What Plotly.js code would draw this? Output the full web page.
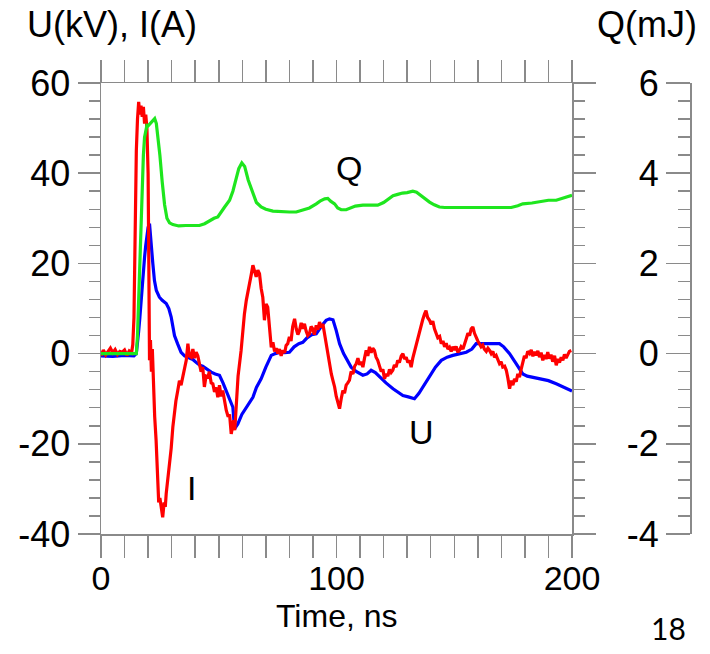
<!DOCTYPE html>
<html>
<head>
<meta charset="utf-8">
<script src="https://cdn.plot.ly/plotly-3.0.1.min.js"></script>
<style>html,body{margin:0;padding:0;background:#fff;}#chart{width:710px;height:654px;}</style>
</head>
<body>
<div id="chart"></div>
<script>
// ---- Data ----
// Time axis in ns
const qTime = [0,5,10,15,15.5,16,16.5,17,17.5,18,
  18.5,19,19.5,20,20.8,21.5,22.2,22.8,23.5,24.2,
  25,26,27,28,29.1,30.5,33,36,39,41.8,
  44,46,48,49.6,51,52.5,54.6,56,57.5,58.5,
  59.8,61,62.5,64.5,66,68,70,73,77.2,80,
  82.9,86,88.5,91.4,93,95,96.3,97.5,99.2,100.5,
  102,104.1,106,108,111.2,114,117.5,120,122,124,
  126,128,130,132.4,134,135.5,137,139.5,141.5,143.7,
  146,150,155,160.7,165,170,174.2,177,179.1,183,
  187,190,193.3,196,198,200];
// Q in mJ (right axis)
const qValues = [0,0,0,0,0.4,1.2,2.2,3.0,3.7,4.4,
  4.8,4.95,5.06,5.05,5.1,5.15,5.2,5.21,5.1,4.8,
  4.4,3.8,3.3,3.0,2.9,2.86,2.83,2.84,2.84,2.84,
  2.88,2.95,3.0,3.03,3.15,3.25,3.4,3.6,3.9,4.1,
  4.23,4.15,3.85,3.55,3.35,3.25,3.2,3.16,3.14,3.14,
  3.14,3.18,3.23,3.32,3.38,3.43,3.44,3.38,3.32,3.23,
  3.19,3.19,3.23,3.27,3.29,3.29,3.29,3.35,3.42,3.5,
  3.53,3.56,3.57,3.6,3.58,3.52,3.45,3.36,3.3,3.25,
  3.24,3.24,3.25,3.25,3.24,3.25,3.24,3.28,3.32,3.34,
  3.37,3.4,3.4,3.44,3.47,3.51];

const uTime = [0,5,10,14,15,15.5,16,16.5,17,17.5,
  18,18.5,19,19.5,20,20.6,21.3,22,22.7,23.5,
  24.8,26,27.7,28.8,29.8,31.2,32.5,34,35.5,37.6,
  39,40.5,42,43.2,45,46.8,48.5,50.3,51.8,53.2,
  54.6,56,56.7,58.1,59.8,61.7,63,64.5,66,68,
  70,72.3,74,76,78,80,82,84,85.7,87.5,
  89.5,91.4,93.5,95.6,97,98.5,99.9,101.3,103,104.5,
  106.2,108.5,111.2,113,114.7,116.5,118.3,121,124,126,
  128.2,130.5,133.1,135,136.6,138,139.5,142,144.5,147,
  149.4,152,155.1,157.5,159.3,161,162.8,166,169.2,171,
  173.5,176,179.1,181,184,187.6,190,193.3,196,199.7,
  200];
// U in kV (left axis)
const uValues = [-0.5,-0.6,-0.4,-0.5,0,2,5,8,12,15,
  18,21.4,24,26,28,28.8,23.6,20,16.2,14,
  12.5,11.8,11.1,10,8.1,4,2.2,0.3,-0.5,-1.1,
  -1.3,-2,-2.6,-2.8,-3.5,-4.1,-4.5,-4.8,-6.5,-8.2,
  -10,-11.9,-16.7,-15.6,-13.5,-11.9,-11,-9.7,-7.5,-5.6,
  -3,-0.4,0,0.3,0.2,0.3,1.5,2.2,2.5,3.5,
  4.2,4.4,6,7.4,7.7,7.5,5.1,2.2,0,-1.5,
  -3,-4,-4.8,-4.5,-3.7,-4.2,-5.2,-6.5,-7.8,-8.5,
  -9.3,-9.6,-10,-8.8,-7.4,-6.2,-5.2,-3,-1.5,-0.8,
  -0.4,0,0.3,1.0,2.2,2.2,2.2,2.3,2.2,1.5,
  0,-2,-4.5,-5,-5.3,-5.6,-6,-6.7,-7.3,-8.2,
  -8.3];

const iTime = [0,1,2,3,4,5,6,7,8,9,
  10,11,12,13,13.5,14,14.5,15,15.5,16,
  16.5,17,17.5,18,18.5,19,19.5,20,20.3,20.6,
  21,21.4,21.8,22.2,22.8,23.4,24,24.5,25,25.6,
  26.2,26.8,27.3,27.7,28.4,29.1,29.8,30.5,31.2,31.8,
  32.6,33.3,34,34.7,35.4,36.2,36.9,37.5,38.3,39,
  39.7,40.4,41.1,41.8,42.5,43.2,43.9,44.6,45.4,46,
  46.8,47.5,48.2,48.9,49.6,50.3,51,51.7,52.5,53.2,
  54,54.6,55.3,55.8,56.3,56.8,57.4,58.2,59.5,60.2,
  60.9,61.7,62.5,63.2,63.8,64.5,65.2,65.9,66.6,67.3,
  68,68.7,69.4,70.1,70.8,71.5,72.3,73,73.7,74.4,
  75.1,75.8,76.5,77.2,78,78.6,79.3,80,80.7,81.4,
  82.2,82.9,83.6,84.3,85,85.7,86.4,87.1,87.8,88.5,
  89.2,89.9,90.6,91.4,92.1,92.8,93.5,94.2,95,95.6,
  96.3,97,97.8,98.5,99.2,99.9,100.6,101.3,102,102.7,
  103.4,104.1,104.8,105.5,106.2,107,107.7,108.4,109.1,109.8,
  110.5,111.2,111.9,112.6,113.3,114,114.7,115.4,116.1,116.8,
  117.5,118.3,119,119.7,120.4,121.1,121.8,122.5,123.2,123.9,
  124.6,125.3,126,126.7,127.5,128.2,128.9,129.6,130.3,131,
  131.7,132.4,133.1,133.8,134.5,135.2,135.9,136.6,137.4,138,
  138.7,139.5,140.2,140.9,141.6,142.3,143,143.8,144.5,145.2,
  145.9,146.6,147.3,148,148.7,149.4,150.1,150.8,151.5,152.2,
  152.9,153.7,154.4,155.1,155.8,156.5,157.2,157.9,158.6,159.3,
  160,160.7,161.4,162.1,162.8,163.6,164.3,165,165.7,166.4,
  167.1,167.8,168.5,169.2,169.9,170.6,171.4,172.1,172.8,173.5,
  174.2,174.9,175.6,176.3,177,177.7,178.4,179.1,179.8,180.5,
  181.2,182,182.7,183.4,184.1,184.8,185.5,186.2,186.9,187.6,
  188.3,189,189.7,190.4,191.1,191.8,192.6,193.3,194,194.7,
  195.4,196.1,196.8,197.5,198.2,198.9,199.7];
// I in A (left axis)
const iValues = [-0.5,0.8,-0.3,0.6,1.2,0.2,0.9,-0.2,0.5,0.3,
  0.8,-0.4,0.6,0.2,2,8,30,45,52,55.8,
  53,55,52.5,54.7,51,53,50,40,20,-1.5,
  3,-4,1,-8,-14,-19.3,-30,-33,-32,-34.5,
  -36.3,-33,-34,-31,-28,-25.2,-21,-16.3,-13,-10.5,
  -8.2,-6,-7,-5.2,-3,-1.5,2.2,-0.5,-0.8,1,
  -1,0.3,-0.5,-2.2,-4,-3,-7.4,-5,-5.2,-4,
  -6.5,-6.7,-8.5,-7.5,-9.7,-7,-9.5,-8.2,-11,-12.6,
  -14,-13.5,-17.8,-16,-14.8,-17,-10.4,-5,0.7,5,
  8.8,11.8,14,15,17.5,19.6,18,17,18.5,17.7,
  14.5,12.5,7.4,11,10.3,5,1.4,2.5,0.5,1.2,
  0,1,-0.5,0.7,0.2,1.8,2.2,3.7,2.8,6,
  7.7,5.5,4.2,5.1,6.8,5.5,6.6,5,4,4.4,
  6,5.5,4.2,6.3,5.3,7,5.8,6.6,4,2,
  0,-2.5,-4.5,-6,-7.4,-9.5,-11,-12.2,-10,-8.2,
  -8.8,-7,-6.5,-5.9,-4,-4.5,-2.8,-2.2,-1,-2.5,
  -1.8,-3,-1,0.7,-0.5,1.5,0.2,1.2,0.7,-0.8,
  -1.5,-2.6,-4,-3.5,-5.6,-4.5,-5,-3.5,-4.2,-3.7,
  -2.5,-3,-1.5,-2,-0.5,0,-1.2,-0.8,-2,-1.5,
  -3,-1,0.5,1.5,2.9,4.5,6,7.5,8.8,9.5,
  8,7.4,6.5,7.2,5.5,4.4,3.5,3.8,2.2,2.8,
  1.5,2.3,1,1.4,0.5,1.5,0.8,1.6,0.3,0.7,
  1.5,1,2.5,3.3,4.5,4,5.5,5.9,4.5,3.5,
  2.8,2.2,1.5,1.9,1,0.5,1.2,0.7,0,0.5,
  -0.8,-0.4,-1.5,-2.2,-1.8,-3,-2.8,-3.7,-5.5,-7.8,
  -6,-7,-5.6,-6.2,-4.5,-5.2,-3.5,-1.9,-0.5,-1,
  0.5,0,0.8,-0.6,0.4,-0.4,0.6,-0.8,0.2,-1.5,
  -0.3,-1.2,0.3,-1.1,-0.2,-1.8,-0.5,-2.6,-1.2,-2,
  -0.8,-1.5,-0.2,-1,-0.4,0.5,0.7];

// Tick labels
const xTickVals = [0, 100, 200];
const xTickText = ['0', '100', '200'];
const yTickVals = [-40, -20, 0, 20, 40, 60];
const yTickText = ['-40', '-20', '0', '20', '40', '60'];
const qTickVals = [-4, -2, 0, 2, 4, 6];
const qTickText = ['-4', '-2', '0', '2', '4', '6'];

// Curve labels
const curveLabels = [
  {text: 'Q', t: 105.5, v: 41.1},
  {text: 'U', t: 136.3, v: -17.4},
  {text: 'I', t: 38.4, v: -29.9}
];

// ---- Drawing ----
const FONT = 'Liberation Sans, Arial, Helvetica, sans-serif';
const GRAY = '#8a8a8a';

const traces = [
  {x: uTime, y: uValues, type: 'scatter', mode: 'lines', name: 'U',
   line: {color: '#0000ff', width: 3.2}, xaxis: 'x', yaxis: 'y'},
  {x: iTime, y: iValues, type: 'scatter', mode: 'lines', name: 'I',
   line: {color: '#ff0000', width: 3.2}, xaxis: 'x', yaxis: 'y'},
  {x: qTime, y: qValues, type: 'scatter', mode: 'lines', name: 'Q',
   line: {color: '#1ee61e', width: 3.2}, xaxis: 'x', yaxis: 'y2'}
];

const axisCommon = {
  showgrid: false, zeroline: false, showline: true,
  linecolor: GRAY, linewidth: 1.5,
  ticks: 'outside', tickcolor: GRAY, tickwidth: 1.5,
  tickfont: {family: FONT, size: 36, color: '#000'}
};

const layout = {
  width: 710, height: 654,
  margin: {l: 101, r: 20, t: 83, b: 120},
  paper_bgcolor: '#fff', plot_bgcolor: '#fff',
  showlegend: false,
  xaxis: Object.assign({}, axisCommon, {
    domain: [0, 471/589], range: [0, 200],
    tickmode: 'array', tickvals: xTickVals, ticktext: xTickText,
    tickfont: {family: FONT, size: 34, color: '#000'},
    ticklen: 22, mirror: 'allticks', ticklabelstandoff: -8,
    minor: {tickmode: 'linear', tick0: 0, dtick: 10, ticks: 'outside', ticklen: 11, tickcolor: GRAY, tickwidth: 1.5}
  }),
  yaxis: Object.assign({}, axisCommon, {
    range: [-40, 60],
    tickmode: 'array', tickvals: yTickVals, ticktext: yTickText,
    ticklen: 22, mirror: 'allticks', ticklabelstandoff: 0,
    minor: {tickmode: 'linear', tick0: 0, dtick: 4, ticks: 'outside', ticklen: 11, tickcolor: GRAY, tickwidth: 1.5}
  }),
  yaxis2: Object.assign({}, axisCommon, {
    overlaying: 'y', anchor: 'free', position: 1, side: 'left',
    range: [-4, 6],
    tickmode: 'array', tickvals: qTickVals, ticktext: qTickText,
    ticklen: 24, ticklabelstandoff: 0,
    minor: {tickmode: 'linear', tick0: 0, dtick: 0.4, ticks: 'outside', ticklen: 12, tickcolor: GRAY, tickwidth: 1.5}
  }),
  annotations: [
    {text: 'U(kV), I(A)', xref: 'paper', yref: 'paper', x: (25-101)/589, y: 1 + (83-25)/451,
     xanchor: 'left', yanchor: 'middle', showarrow: false,
     font: {family: FONT, size: 36, color: '#000'}},
    {text: 'Q(mJ)', xref: 'paper', yref: 'paper', x: (699-101)/589, y: 1 + (83-25)/451,
     xanchor: 'right', yanchor: 'middle', showarrow: false,
     font: {family: FONT, size: 36, color: '#000'}},
    {text: 'Time, ns', xref: 'paper', yref: 'paper', x: (337-101)/589, y: -(616-534)/451,
     xanchor: 'center', yanchor: 'middle', showarrow: false,
     font: {family: FONT, size: 32, color: '#000'}},
    {text: '18', xref: 'paper', yref: 'paper', x: (668-101)/589, y: -(628-534)/451,
     xanchor: 'center', yanchor: 'middle', showarrow: false,
     font: {family: 'Lato, Carlito, sans-serif', size: 30, color: '#000'}}
  ].concat(curveLabels.map(c => ({
     text: c.text, x: c.t, y: c.v, xref: 'x', yref: 'y', showarrow: false,
     xanchor: 'center', yanchor: 'middle',
     font: {family: FONT, size: 34, color: '#000'}
  })))
};

Plotly.newPlot('chart', traces, layout, {staticPlot: true, displayModeBar: false});
</script>
</body>
</html>
